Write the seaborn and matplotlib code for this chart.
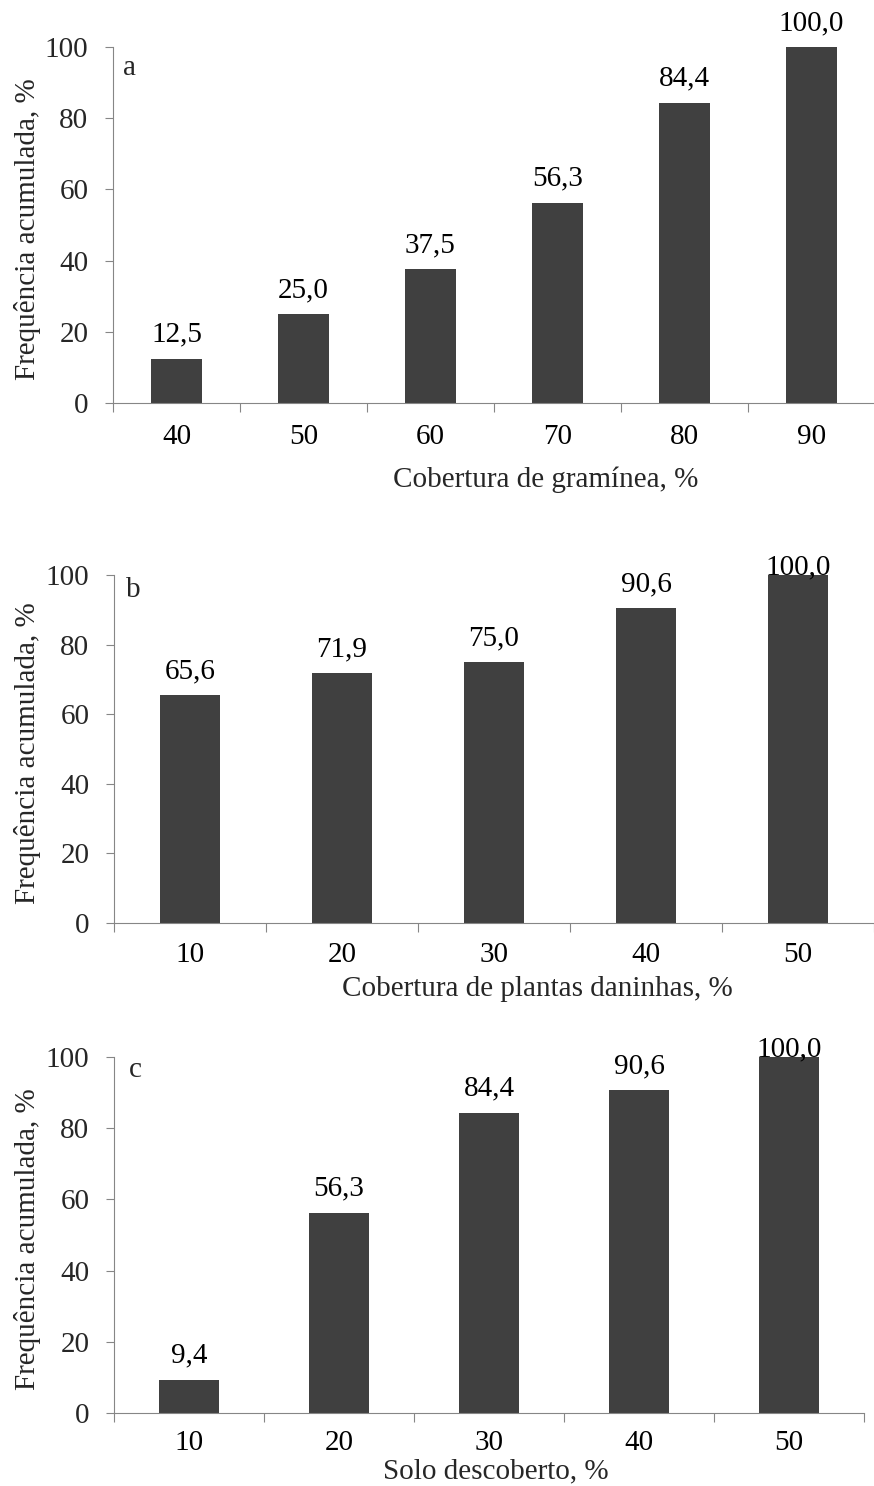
import matplotlib
matplotlib.use("Agg")
import matplotlib.pyplot as plt
import seaborn as sns
import pandas as pd
import numpy as np

# ---- data ----
cats_a = ["40", "50", "60", "70", "80", "90"]
vals_a = [12.5, 25.0, 37.5, 56.3, 84.4, 100.0]
cats_b = ["10", "20", "30", "40", "50"]
vals_b = [65.6, 71.9, 75.0, 90.6, 100.0]
cats_c = ["10", "20", "30", "40", "50"]
vals_c = [9.4, 56.3, 84.4, 90.6, 100.0]
xlabels = ["Cobertura de gramínea, %", "Cobertura de plantas daninhas, %", "Solo descoberto, %"]
ylabel = "Frequência acumulada, %"
letters = ["a", "b", "c"]
yticks = [0, 20, 40, 60, 80, 100]

sns.set_theme(style="white")
plt.rcParams["font.family"] = ["Liberation Serif", "DejaVu Serif"]

W, H = 874, 1486
fig = plt.figure(figsize=(W / 100, H / 100), dpi=100)

FS = 21
BAR = "#404040"
SPINE = "#868686"

# axes boxes in pixel coords: left, right, top(y100), bottom(y0)
boxes = [(113, 875, 47, 403), (114, 874, 575, 923), (114, 864, 1057, 1413)]
xlab_pos = [(546, 480), (537, 989), (496, 1471)]
letter_pos = [(130, 68), (133, 590), (135, 1070)]
tick_pads = [15, 14, 12]
clamp = [False, True, True]

panels = [(cats_a, vals_a), (cats_b, vals_b), (cats_c, vals_c)]

for i, ((cats, vals), (l, r, t, b)) in enumerate(zip(panels, boxes)):
    ax = fig.add_axes([l / W, 1 - b / H, (r - l) / W, (b - t) / H])
    df = pd.DataFrame({"cat": cats, "val": vals})
    sns.barplot(data=df, x="cat", y="val", color=BAR, saturation=1, width=0.4,
                ax=ax, edgecolor=BAR, linewidth=0)
    n = len(cats)
    ax.set_xlim(-0.5, n - 0.5)
    ax.set_ylim(0, 100)
    ax.set_yticks(yticks)
    ax.set_yticklabels([str(v) for v in yticks], fontsize=FS)
    ax.set_xticks(range(n))
    ax.set_xticklabels(cats, fontsize=FS)
    ax.set_xticks(np.arange(-0.5, n, 1.0), minor=True)
    ax.tick_params(axis="x", which="major", length=0, pad=tick_pads[i], colors="black", labelsize=FS)
    ax.tick_params(axis="x", which="minor", length=6.5, width=0.8, color=SPINE, direction="out", bottom=True)
    ax.tick_params(axis="y", which="major", length=5.8, width=0.8, color=SPINE, direction="out", left=True, pad=12, labelsize=FS)
    for s in ["top", "right"]:
        ax.spines[s].set_visible(False)
    for s in ["left", "bottom"]:
        ax.spines[s].set_color(SPINE)
        ax.spines[s].set_linewidth(0.8)
    ax.set_xlabel("")
    ax.set_ylabel("")
    # value labels
    for j, v in enumerate(vals):
        y = v + 4.8
        if clamp[i]:
            y = min(y, 100.3)
        ax.text(j, y, f"{v:.1f}".replace(".", ","), ha="center", va="baseline",
                fontsize=FS, color="black", clip_on=False)
    # y label
    fig.text(28 / W, 1 - ((t + b) / 2 + 4) / H, ylabel, rotation=90, ha="center", va="center", fontsize=FS)
    # x label
    xp, yp = xlab_pos[i]
    fig.text(xp / W, 1 - yp / H, xlabels[i], ha="center", va="center", fontsize=FS)
    # panel letter
    lx, ly = letter_pos[i]
    fig.text(lx / W, 1 - ly / H, letters[i], ha="center", va="center", fontsize=FS)

fig.savefig("out.png", dpi=100, facecolor="white")
